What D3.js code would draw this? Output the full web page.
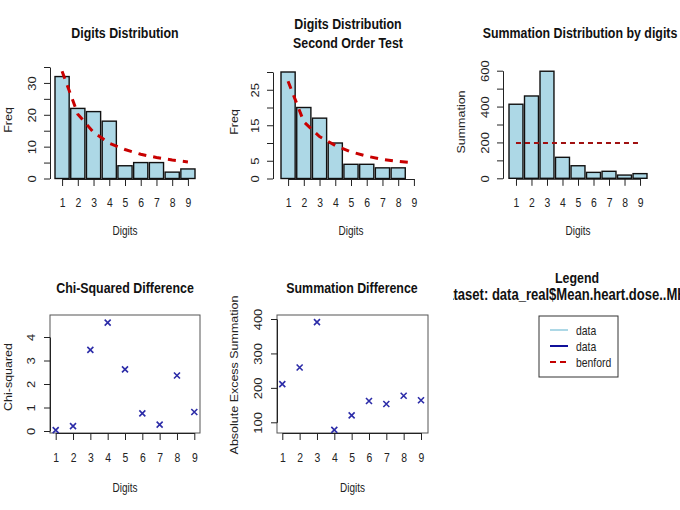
<!DOCTYPE html>
<html><head><meta charset="utf-8">
<script src="https://cdn.jsdelivr.net/npm/d3@7/dist/d3.min.js"></script>
<style>
html,body{margin:0;padding:0;background:#fff;}
svg{display:block;font-family:"Liberation Sans",Arial,sans-serif;}
</style></head>
<body>
<svg id="c" width="680" height="510"></svg>
<script>
// ---- data ----
const digits = [1, 2, 3, 4, 5, 6, 7, 8, 9];
const freqFirst = [32, 22, 21, 18, 4, 5, 5, 2, 3];
const benfordFirst = [33.7, 20.2, 14.5, 11.1, 9.1, 7.6, 6.6, 5.8, 5.2];
const freqSecond = [30, 20, 17, 10, 4, 4, 3, 3, 0];
const benfordSecond = [27.4, 16.0, 11.8, 9.3, 7.5, 6.3, 5.4, 4.8, 4.4];
const sumByDigit = [413, 459, 597, 117, 70, 33, 39, 18, 26];
const benfordSum = [197, 197, 197, 197, 197, 197, 197, 197, 197];
const chiSquared = [0.04, 0.21, 3.45, 4.61, 2.62, 0.75, 0.27, 2.36, 0.81];
const absExcess = [211, 259, 391, 78, 120, 162, 153, 177, 164];

const ticksFirst = [0, 5, 10, 15, 20, 25, 30, 35];
const labelsFirst = [0, 10, 20, 30];
const ticksSecond = [0, 5, 10, 15, 20, 25, 30];
const labelsSecond = [0, 5, 15, 25];
const ticksSum = [0, 100, 200, 300, 400, 500, 600];
const labelsSum = [0, 200, 400, 600];
const ticksChi = [0, 1, 2, 3, 4];
const ticksExcess = [100, 200, 300, 400];

const legendLabels = ["data", "data", "benford"];
const legendColors = ["#add8e6", "#10109a", "#c40000"];
const legendDashes = [null, null, "6,4"];

const titleLegend = "Legend";
const datasetName = "Dataset: data_real$Mean.heart.dose..MHD..Gy.";

// ---- drawing ----
const svg = d3.select("#c");
const SX = 0.8;              // horizontal squeeze of the reference text
const FONT = 12.5;
const TICKFONT = 13;
const TXT = "#222";

function text(g, x, y, s, o = {}) {
  return g.append("text")
    .attr("transform", `translate(${x},${y}) scale(${SX},1)${o.rot ? " rotate(-90)" : ""}`)
    .attr("text-anchor", o.anchor || "middle")
    .attr("font-size", o.size || FONT)
    .attr("font-weight", o.bold ? "bold" : "normal")
    .attr("fill", o.fill || TXT)
    .text(s);
}

function styleAxis(g) {
  g.attr("font-family", null).attr("font-size", null);
  g.selectAll("line").attr("stroke", "#222").attr("stroke-width", 1);
  g.selectAll("path").attr("stroke", "#222").attr("stroke-width", 1);
}

function leftAxis(g, y, ticks, labels, axX, lblX) {
  const ax = g.append("g").attr("transform", `translate(${axX},0)`)
    .call(d3.axisLeft(y).tickValues(ticks).tickSize(6).tickSizeOuter(0)
      .tickFormat(d => labels.includes(d) ? d : ""));
  styleAxis(ax);
  ax.selectAll("text")
    .attr("x", null).attr("dy", null)
    .attr("text-anchor", "middle")
    .attr("font-size", TICKFONT).attr("fill", TXT)
    .attr("transform", `translate(${lblX - axX},0) scale(${SX},1) rotate(-90)`);
}

function bottomAxis(g, x, axY, lblY) {
  const ax = g.append("g").attr("transform", `translate(0,${axY})`)
    .call(d3.axisBottom(x).tickValues(digits).tickSize(7).tickSizeOuter(0));
  styleAxis(ax);
  ax.selectAll("text")
    .attr("y", lblY - axY).attr("dy", null)
    .attr("font-size", TICKFONT).attr("fill", TXT)
    .attr("transform", `scale(${SX},1)`);
}

function barPanel(o) {
  const g = svg.append("g");
  const xb = d3.scaleBand().domain(digits).range(o.xr).paddingInner(0.1).paddingOuter(0);
  const c1 = xb(1) + xb.bandwidth() / 2, c9 = xb(9) + xb.bandwidth() / 2;
  const xp = d3.scalePoint().domain(digits).range([c1, c9]);
  const y = d3.scaleLinear().domain(o.yd).range(o.yr);

  bottomAxis(g, xp, o.yr[0] + 0.5, 207);

  g.selectAll("rect.bar").data(o.values).join("rect").attr("class", "bar")
    .attr("x", (d, i) => xb(digits[i]))
    .attr("width", xb.bandwidth())
    .attr("y", d => y(d))
    .attr("height", d => y(0) - y(d))
    .attr("fill", "#add8e6").attr("stroke", "#111").attr("stroke-width", 1.4);

  leftAxis(g, y, o.ticks, o.labels, o.axX, o.axX - 14);

  const line = d3.line().x((d, i) => xp(digits[i])).y(d => y(d));
  g.append("path").attr("d", line(o.benford))
    .attr("fill", "none").attr("stroke", o.lineColor)
    .attr("stroke-width", o.lineW).attr("stroke-dasharray", o.dash);

  o.title.forEach((t, i) => text(g, o.tx, o.ty[i], t, { bold: true, size: 15.5, fill: "#111" }));
  text(g, (o.xr[0] + o.xr[1]) / 2, 235, "Digits");
  text(g, o.ylx, o.yly, o.ylab, { rot: true });
}

barPanel({ values: freqFirst, benford: benfordFirst, xr: [55, 195], yd: [0, 35], yr: [178.5, 67],
  ticks: ticksFirst, labels: labelsFirst, axX: 50, title: ["Digits Distribution"], tx: 125, ty: [37.5],
  ylab: "Freq", ylx: 12, yly: 120, lineColor: "#c80000", lineW: 3, dash: "8,7" });

barPanel({ values: freqSecond, benford: benfordSecond, xr: [281, 421], yd: [0, 30], yr: [178.5, 72],
  ticks: ticksSecond, labels: labelsSecond, axX: 273, title: ["Digits Distribution", "Second Order Test"],
  tx: 348, ty: [28.5, 47.5], ylab: "Freq", ylx: 238, yly: 122, lineColor: "#c80000", lineW: 3, dash: "8,7" });

barPanel({ values: sumByDigit, benford: benfordSum, xr: [509, 647], yd: [0, 600], yr: [178.3, 70.7],
  ticks: ticksSum, labels: labelsSum, axX: 503, title: ["Summation Distribution by digits"], tx: 580, ty: [38],
  ylab: "Summation", ylx: 465, yly: 122, lineColor: "#a01010", lineW: 2, dash: "5,4" });

function scatterPanel(o) {
  const g = svg.append("g");
  const x = d3.scaleLinear().domain([1, 9]).range(o.xr);
  const y = d3.scaleLinear().domain(o.yd).range(o.yr);
  g.append("rect").attr("x", o.box[0]).attr("y", 315).attr("width", o.box[1] - o.box[0]).attr("height", 118)
    .attr("fill", "none").attr("stroke", "#555").attr("stroke-width", 1);
  bottomAxis(g, x, 433, 462);
  leftAxis(g, y, o.ticks, o.ticks, o.box[0], o.box[0] - 15);
  const s = 3;
  const pts = g.selectAll("g.pt").data(o.values).join("g").attr("class", "pt")
    .attr("transform", (d, i) => `translate(${x(digits[i])},${y(d)})`);
  pts.append("path").attr("d", `M${-s},${-s}L${s},${s}M${-s},${s}L${s},${-s}`)
    .attr("stroke", "#2c2ca8").attr("stroke-width", 1.6).attr("fill", "none");
  text(g, o.tx, 293, o.title, { bold: true, size: 15.5, fill: "#111" });
  text(g, (o.box[0] + o.box[1]) / 2, 492, "Digits");
  text(g, o.ylx, o.yly, o.ylab, { rot: true });
}

scatterPanel({ values: chiSquared, xr: [55.7, 194.3], yd: [0, 4], yr: [431, 337], box: [50, 200],
  ticks: ticksChi, title: "Chi-Squared Difference", tx: 125, ylab: "Chi-squared", ylx: 12, yly: 377 });

scatterPanel({ values: absExcess, xr: [282.3, 421], yd: [100, 400], yr: [422.3, 319], box: [277, 428],
  ticks: ticksExcess, title: "Summation Difference", tx: 352, ylab: "Absolute Excess Summation", ylx: 238, yly: 375 });

// ---- legend panel ----
const lg = svg.append("g");
text(lg, 577, 282.5, titleLegend, { bold: true, size: 15.5, fill: "#111" });
svg.append("defs").append("clipPath").attr("id", "clipL")
  .append("rect").attr("x", 453).attr("y", 286).attr("width", 227).attr("height", 24);
const DSIZE = 16.3;
const tmp = svg.append("text").attr("font-size", DSIZE).attr("font-weight", "bold").text(datasetName.slice(0, 2));
const daW = tmp.node().getComputedTextLength() * SX;
tmp.remove();
const dg = lg.append("g").attr("clip-path", "url(#clipL)");
text(dg, 453 - daW + 0.5, 299.5, datasetName, { bold: true, size: DSIZE, anchor: "start", fill: "#111" });

lg.append("rect").attr("x", 539).attr("y", 316).attr("width", 79).attr("height", 61)
  .attr("fill", "#fff").attr("stroke", "#333").attr("stroke-width", 1);
const ly = d3.scalePoint().domain(d3.range(legendLabels.length)).range([330, 362]);
legendLabels.forEach((lab, i) => {
  lg.append("line").attr("x1", 550).attr("x2", 568).attr("y1", ly(i)).attr("y2", ly(i))
    .attr("stroke", legendColors[i]).attr("stroke-width", 2)
    .attr("stroke-dasharray", legendDashes[i]);
  text(lg, 576, ly(i) + 4.5, lab, { anchor: "start", size: 13 });
});
</script>
</body></html>
